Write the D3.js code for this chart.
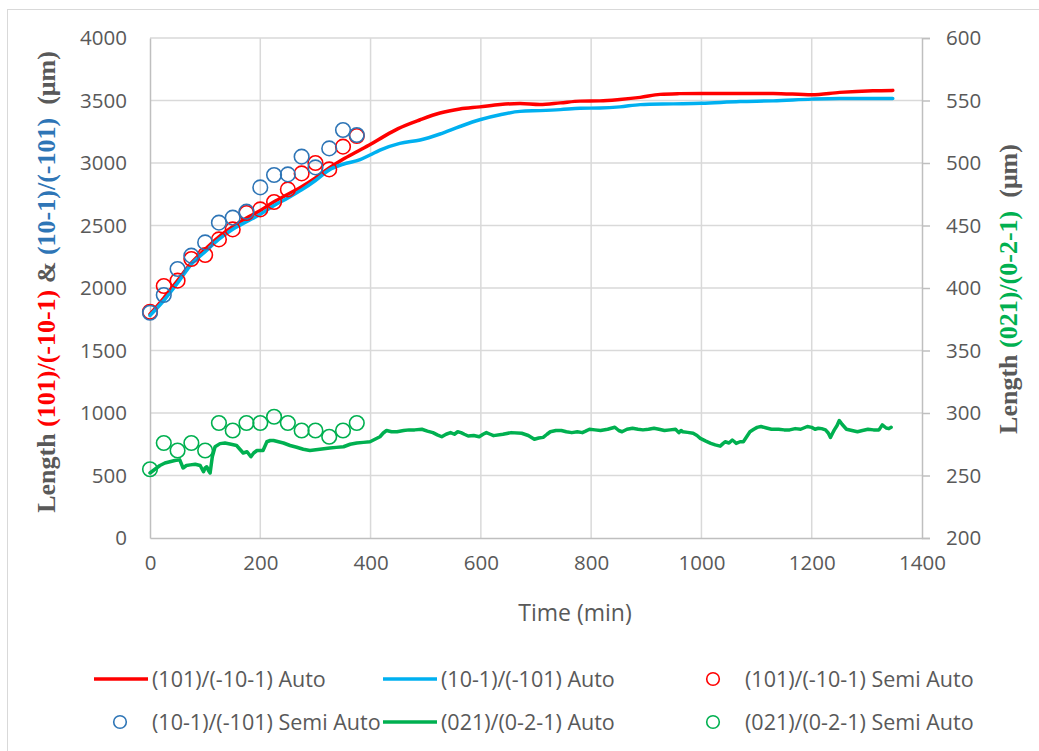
<!DOCTYPE html>
<html>
<head>
<meta charset="utf-8">
<script src="https://cdn.jsdelivr.net/npm/d3@7/dist/d3.min.js"></script>
<style>
  html, body { margin: 0; padding: 0; background: #fff; }
  svg { display: block; }
  .tick text { font-family: "Open Sans", sans-serif; fill: #595959; }
</style>
</head>
<body>
<svg id="chart" width="1039" height="751"></svg>
<script>
// ---- data ----
const xTicks = [0, 200, 400, 600, 800, 1000, 1200, 1400];
const leftTicks = [0, 500, 1000, 1500, 2000, 2500, 3000, 3500, 4000];
const rightTicks = [200, 250, 300, 350, 400, 450, 500, 550, 600];

// (101)/(-10-1) Auto : [time, length]
const redAuto = [
  [0,1790],[25,1920],[50,2060],[75,2200],[100,2310],[125,2410],[150,2490],[175,2560],
  [200,2620],[225,2690],[250,2750],[275,2810],[300,2880],[325,2960],[350,3030],[375,3090],
  [400,3150],[425,3215],[450,3275],[490,3346],[526,3400],[562,3432],[598,3449],[635,3468],
  [671,3476],[707,3468],[744,3481],[780,3495],[816,3497],[852,3508],[889,3525],[925,3549],
  [960,3555],[1000,3557],[1070,3557],[1130,3557],[1200,3546],[1251,3565],[1311,3578],[1347,3581]
];
// (10-1)/(-101) Auto
const blueAuto = [
  [0,1780],[25,1900],[50,2040],[75,2190],[100,2290],[125,2390],[150,2470],[175,2530],
  [200,2590],[225,2660],[250,2720],[275,2785],[300,2860],[325,2945],[350,2990],[381,3027],
  [399,3064],[417,3103],[453,3157],[490,3184],[526,3232],[562,3292],[598,3346],[635,3386],
  [671,3413],[707,3419],[744,3427],[780,3438],[816,3440],[852,3449],[889,3467],[949,3473],
  [1000,3478],[1070,3492],[1130,3497],[1200,3511],[1251,3516],[1347,3516]
];
// Semi Auto measurements every 25 min
const semiTimes = [0,25,50,75,100,125,150,175,200,225,250,275,300,325,350,375];
const redSemi  = [1810,2016,2059,2232,2264,2389,2469,2600,2629,2688,2789,2917,3000,2949,3131,3216];
const blueSemi = [1802,1944,2152,2259,2365,2523,2563,2611,2805,2904,2909,3051,2965,3117,3264,3224];
const greenSemi = [255,276,270,276,270,292,286,292,292,297,292,286,286,281,286,292];

// (021)/(0-2-1) Auto (secondary axis)
const greenAuto = [
  [0,252],[9,255],[18,258],[27,260],[36,261],[45,262],[54,262.5],[60,256],[66,258],[73,258.5],
  [82,259],[91,258],[97,253],[100,256],[103,257],[106,254],[109,252],[113,265],[118,273],[127,275.5],
  [136,276],[147,275],[157,274],[163,271],[169,268],[176,269],[183,265],[188,268],[194,270],[205,270],
  [212,277],[218,278],[224,278],[233,277],[242,276],[254,274],[266,272.6],[278,271],[290,270],[308,271],
  [326,272],[338,272.5],[351,273],[363,275],[375,276],[387,276.5],[399,277],[408,279],[417,281],[423,284],
  [429,286],[438,285],[448,285],[460,286],[470,286.5],[480,286.5],[493,287],[503,285.5],[513,284.3],[521,282.5],
  [529,281],[537,283],[545,284.3],[552,283],[558,285],[564,284.3],[570,283],[577,281.6],[587,282],[597,281],
  [604,283],[610,284.3],[617,283],[623,281.9],[640,283],[655,284.3],[674,283.8],[686,282],[697,279],[705,280],
  [713,280.5],[720,283],[726,285],[736,286],[746,286],[755,285],[765,284.3],[775,285],[784,284.3],[790,285.5],
  [797,287],[807,286.5],[817,286],[830,287],[843,288.6],[850,286],[856,285],[865,287],[875,287.8],[885,287],
  [894,286.5],[904,287],[914,287.8],[923,287],[933,286],[943,286.5],[953,287],[959,284.3],[963,286],[966,285],
  [975,284.5],[985,283.8],[992,282],[998,279.7],[1008,277.5],[1017,275.7],[1025,274.5],[1034,273.5],[1039,275.5],[1043,277],
  [1050,276],[1056,278.4],[1060,277],[1063,275.7],[1070,277],[1076,277],[1082,281],[1088,285],[1095,287],[1101,288.5],
  [1108,289.2],[1118,288],[1127,287],[1140,287],[1150,286.5],[1160,286.5],[1170,287.5],[1180,287],[1192,289.2],[1200,288.5],
  [1206,287],[1212,287.8],[1218,287.5],[1225,286.5],[1230,284],[1234,280.5],[1238,284],[1241,286.5],[1246,290],[1250,294],
  [1255,291],[1263,287],[1273,286],[1283,285],[1292,286],[1302,287],[1312,286.5],[1322,286.5],[1328,290.5],[1335,288],
  [1340,287.5],[1344,288.6]
];

const legendItems = [
  {label: "(101)/(-10-1) Auto", kind: "line", color: "#FF0000"},
  {label: "(10-1)/(-101) Auto", kind: "line", color: "#00B0F0"},
  {label: "(101)/(-10-1) Semi Auto", kind: "circle", color: "#FF0000"},
  {label: "(10-1)/(-101) Semi Auto", kind: "circle", color: "#2E75B6"},
  {label: "(021)/(0-2-1) Auto", kind: "line", color: "#00B050"},
  {label: "(021)/(0-2-1) Semi Auto", kind: "circle", color: "#00B050"}
];

// ---- layout ----
const svg = d3.select("#chart");
const plot = {left: 150, right: 922, top: 38, bottom: 538};
const gridColor = "#D9D9D9", axisColor = "#BFBFBF", textColor = "#595959";

// outer chart frame
svg.append("rect").attr("x", 7.5).attr("y", 9.5).attr("width", 1040).attr("height", 760)
  .attr("fill", "#fff").attr("stroke", "#D9D9D9").attr("stroke-width", 1);

const x = d3.scaleLinear().domain([0, 1400]).range([plot.left, plot.right]);
const yL = d3.scaleLinear().domain([0, 4000]).range([plot.bottom, plot.top]);
const yR = d3.scaleLinear().domain([200, 600]).range([plot.bottom, plot.top]);

// gridlines
const grid = svg.append("g");
grid.selectAll("line.h").data(leftTicks.slice(1)).join("line")
  .attr("x1", plot.left).attr("x2", plot.right)
  .attr("y1", d => yL(d)).attr("y2", d => yL(d))
  .attr("stroke", gridColor).attr("stroke-width", 1.5);
grid.selectAll("line.v").data(xTicks.slice(1, -1)).join("line")
  .attr("x1", d => x(d)).attr("x2", d => x(d))
  .attr("y1", plot.top).attr("y2", plot.bottom)
  .attr("stroke", gridColor).attr("stroke-width", 1.5);

// axes
const fs = "20.5px";
const fmt = d3.format("d");
const gx = svg.append("g").attr("transform", `translate(0,${plot.bottom})`)
  .call(d3.axisBottom(x).tickValues(xTicks).tickFormat(fmt).tickSize(0).tickPadding(17));
const gl = svg.append("g").attr("transform", `translate(${plot.left},0)`)
  .call(d3.axisLeft(yL).tickValues(leftTicks).tickFormat(fmt).tickSize(0).tickPadding(23));
const gr = svg.append("g").attr("transform", `translate(${plot.right},0)`)
  .call(d3.axisRight(yR).tickValues(rightTicks).tickFormat(fmt).tickSize(8).tickPadding(16));
[gx, gl, gr].forEach(g => {
  g.select(".domain").attr("stroke", axisColor).attr("stroke-width", 1.5);
  g.selectAll(".tick line").attr("stroke", axisColor).attr("stroke-width", 1.5);
  g.selectAll(".tick text").style("font-size", fs).attr("fill", textColor);
  g.attr("font-family", null).attr("font-size", null);
});

// series
const lineL = d3.line().x(d => x(d[0])).y(d => yL(d[1])).curve(d3.curveMonotoneX);
const lineR = d3.line().x(d => x(d[0])).y(d => yR(d[1]));

svg.append("path").datum(redAuto).attr("d", lineL)
  .attr("fill", "none").attr("stroke", "#FF0000").attr("stroke-width", 3.5).attr("stroke-linecap", "round");
svg.append("path").datum(blueAuto).attr("d", lineL)
  .attr("fill", "none").attr("stroke", "#00B0F0").attr("stroke-width", 3.5).attr("stroke-linecap", "round");

function circles(vals, scale, color) {
  svg.append("g").selectAll("circle").data(vals).join("circle")
    .attr("cx", (d, i) => x(semiTimes[i])).attr("cy", d => scale(d)).attr("r", 7.3)
    .attr("fill", "none").attr("stroke", color).attr("stroke-width", 1.6);
}
circles(redSemi, yL, "#FF0000");
circles(blueSemi, yL, "#2E75B6");

svg.append("path").datum(greenAuto).attr("d", lineR)
  .attr("fill", "none").attr("stroke", "#00B050").attr("stroke-width", 3.5)
  .attr("stroke-linejoin", "round").attr("stroke-linecap", "round");
circles(greenSemi, yR, "#00B050");

// axis titles
svg.append("text").attr("x", 575).attr("y", 621).attr("text-anchor", "middle")
  .attr("font-family", "Open Sans, sans-serif").attr("font-size", "23px").attr("fill", textColor)
  .text("Time (min)");

function titleParts(parts, cx, cy) {
  const t = svg.append("text")
    .attr("transform", `translate(${cx},${cy}) rotate(-90)`)
    .attr("text-anchor", "middle")
    .attr("font-family", "Liberation Serif, Times New Roman, serif")
    .attr("font-weight", "bold").attr("font-size", "26px").attr("fill", textColor);
  parts.forEach(p => t.append("tspan").attr("fill", p[1]).text(p[0]));
}
titleParts([["Length ", textColor], ["(101)/(-10-1)", "#FF0000"], [" & ", textColor],
            ["(10-1)/(-101)", "#2E75B6"], ["\u00a0\u00a0(\u03bcm)", textColor]], 55, 282);
titleParts([["Length ", textColor], ["(021)/(0-2-1)", "#00B050"],
            ["\u00a0\u00a0(\u03bcm)", textColor]], 1017, 289);

// legend: text columns, markers sit to the left of each label
const textCols = [152, 441, 745];
const rows = [679, 722];
const leg = svg.append("g");
legendItems.forEach((item, i) => {
  const tx = textCols[i % 3], cy = rows[Math.floor(i / 3)];
  if (item.kind === "line") {
    leg.append("line").attr("x1", tx - 58).attr("x2", tx - 4).attr("y1", cy).attr("y2", cy)
      .attr("stroke", item.color).attr("stroke-width", 3.5);
  } else {
    leg.append("circle").attr("cx", tx - 32).attr("cy", cy).attr("r", 6.3)
      .attr("fill", "none").attr("stroke", item.color).attr("stroke-width", 1.6);
  }
  leg.append("text").attr("x", tx).attr("y", cy).attr("dy", "0.35em")
    .attr("font-family", "Open Sans, sans-serif").attr("font-size", "21.5px").attr("fill", textColor)
    .text(item.label);
});
</script>
</body>
</html>
